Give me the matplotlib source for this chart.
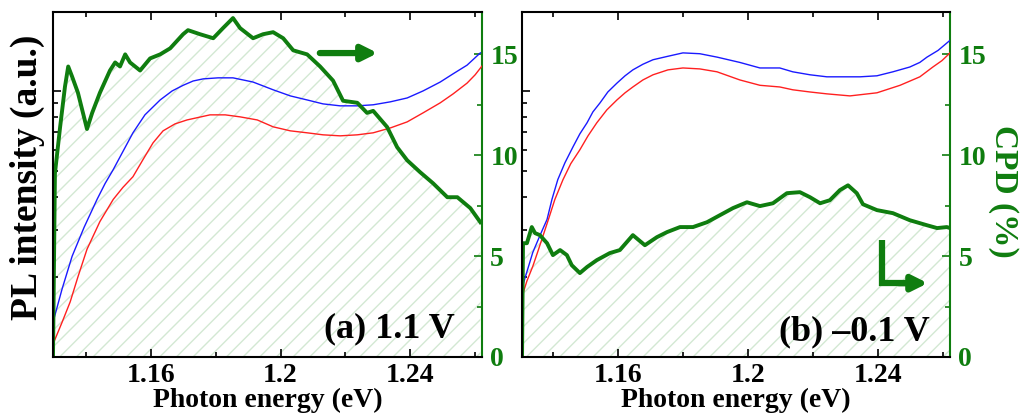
import numpy as np
import matplotlib
matplotlib.use("Agg")
import matplotlib.pyplot as plt
from matplotlib.ticker import MultipleLocator, NullFormatter, FormatStrFormatter, LogLocator

plt.rcParams['font.family'] = ['Liberation Serif', 'DejaVu Serif']
plt.rcParams['font.weight'] = 'bold'
plt.rcParams['hatch.linewidth'] = 1.0

GREEN = '#0f7d0f'
HATCH = '#d3e8d3'

# ---- panel (a) 1.1 V ----
a_blue_e = [1.1297, 1.1325, 1.1356, 1.1393, 1.1433, 1.1458, 1.1483, 1.1513, 1.1544, 1.1581,
            1.1628, 1.1665, 1.1699, 1.1730, 1.1761, 1.1807, 1.1853, 1.1915, 1.1977, 1.2030,
            1.2082, 1.2131, 1.2184, 1.2237, 1.2286, 1.2339, 1.2391, 1.2440, 1.2493, 1.2533,
            1.2576, 1.2617]
a_blue = [1.35, 1.80, 2.39, 3.07, 3.91, 4.49, 5.06, 5.92, 6.96, 8.13,
          9.25, 10.0, 10.5, 10.9, 11.1, 11.2, 11.2, 10.8, 10.1, 9.58,
          9.25, 8.94, 8.79, 8.79, 8.87, 9.10, 9.41, 10.0, 10.8, 11.6,
          12.5, 13.9]
a_red_e = [1.1300, 1.1325, 1.1350, 1.1374, 1.1402, 1.1442, 1.1483, 1.1513, 1.1544, 1.1575,
           1.1606, 1.1637, 1.1674, 1.1711, 1.1782, 1.1829, 1.1875, 1.1928, 1.1977, 1.2030,
           1.2082, 1.2131, 1.2184, 1.2237, 1.2286, 1.2339, 1.2391, 1.2440, 1.2493, 1.2533,
           1.2576, 1.2601, 1.2622]
a_red = [1.14, 1.35, 1.61, 2.00, 2.54, 3.23, 3.91, 4.34, 4.76, 5.52,
         6.38, 7.08, 7.52, 7.78, 8.13, 8.13, 7.99, 7.78, 7.33, 7.08,
         6.96, 6.84, 6.78, 6.84, 6.96, 7.26, 7.65, 8.27, 9.02, 9.75,
         10.7, 11.5, 12.4]
a_cpd_e = [1.1297, 1.1303, 1.1319, 1.1334, 1.1344, 1.1356, 1.1374, 1.1402, 1.1418, 1.1442,
           1.1473, 1.1489, 1.1504, 1.1520, 1.1535, 1.1566, 1.1597, 1.1628, 1.1659, 1.1699,
           1.1714, 1.1751, 1.1792, 1.1822, 1.1853, 1.1875, 1.1915, 1.1946, 1.1977, 1.2008,
           1.2039, 1.2082, 1.2122, 1.2162, 1.2193, 1.2237, 1.2267, 1.2286, 1.2329, 1.2360,
           1.2391, 1.2431, 1.2471, 1.2515, 1.2546, 1.2586, 1.2617]
a_cpd = [0.0, 9.1, 11.4, 13.4, 14.4, 13.9, 13.1, 11.3, 12.1, 13.1,
         14.2, 14.6, 14.4, 15.0, 14.6, 14.2, 14.8, 15.0, 15.3, 16.0,
         16.2, 16.0, 15.8, 16.3, 16.8, 16.3, 15.8, 16.0, 16.1, 15.8,
         15.2, 15.0, 14.4, 13.7, 12.7, 12.6, 12.1, 12.2, 11.4, 10.4,
         9.75, 9.16, 8.61, 7.92, 7.92, 7.38, 6.68]

# ---- panel (b) -0.1 V ----
b_blue_e = [1.1308, 1.1323, 1.1338, 1.1360, 1.1382, 1.1397, 1.1415, 1.1437, 1.1462, 1.1483,
            1.1505, 1.1523, 1.1545, 1.1569, 1.1597, 1.1622, 1.1646, 1.1677, 1.1708, 1.1754,
            1.1800, 1.1852, 1.1905, 1.1975, 1.2037, 1.2098, 1.2138, 1.2191, 1.2243, 1.2292,
            1.2345, 1.2397, 1.2446, 1.2498, 1.2529, 1.2551, 1.2585, 1.2622]
b_blue = [1.87, 2.15, 2.47, 2.86, 3.29, 3.91, 4.64, 5.37, 6.17, 6.90,
          7.59, 8.34, 9.02, 9.91, 10.7, 11.4, 12.0, 12.6, 13.1, 13.5,
          13.9, 13.8, 13.4, 12.8, 12.2, 12.2, 11.8, 11.5, 11.3, 11.3,
          11.3, 11.4, 11.8, 12.3, 12.8, 13.4, 14.2, 15.5]
b_red_e = [1.1305, 1.1320, 1.1338, 1.1354, 1.1369, 1.1388, 1.1406, 1.1431, 1.1455, 1.1483,
           1.1508, 1.1535, 1.1566, 1.1597, 1.1622, 1.1646, 1.1677, 1.1708, 1.1754, 1.1800,
           1.1852, 1.1905, 1.1975, 1.2037, 1.2098, 1.2138, 1.2191, 1.2243, 1.2314, 1.2397,
           1.2468, 1.2529, 1.2569, 1.2597, 1.2622]
b_red = [1.69, 1.93, 2.19, 2.50, 2.84, 3.34, 3.91, 4.64, 5.33, 6.01,
         6.78, 7.59, 8.49, 9.25, 9.84, 10.35, 11.0, 11.5, 12.0, 12.2,
         12.1, 11.8, 11.0, 10.5, 10.35, 10.1, 9.91, 9.75, 9.58, 9.84,
         10.5, 11.3, 12.3, 13.0, 13.9]
b_cpd_e = [1.1305, 1.1308, 1.1320, 1.1335, 1.1345, 1.1360, 1.1382, 1.1400, 1.1422, 1.1443,
           1.1458, 1.1483, 1.1505, 1.1535, 1.1575, 1.1606, 1.1646, 1.1683, 1.1720, 1.1751,
           1.1791, 1.1831, 1.1874, 1.1914, 1.1954, 1.1997, 1.2037, 1.2077, 1.2120, 1.2160,
           1.2191, 1.2222, 1.2252, 1.2283, 1.2308, 1.2335, 1.2354, 1.2397, 1.2446, 1.2498,
           1.2551, 1.2582, 1.2612, 1.2622]
b_cpd = [0.0, 5.64, 5.64, 6.44, 6.14, 6.04, 5.64, 5.05, 5.30, 5.05,
         4.55, 4.16, 4.46, 4.80, 5.15, 5.30, 6.04, 5.54, 5.94, 6.19,
         6.44, 6.44, 6.68, 7.03, 7.38, 7.67, 7.48, 7.62, 8.12, 8.17,
         7.92, 7.62, 7.77, 8.27, 8.51, 8.12, 7.57, 7.28, 7.13, 6.78,
         6.53, 6.39, 6.44, 6.39]

panels = [
    dict(rect=[0.0517, 0.1439, 0.4185, 0.8273], xlim=(1.1297, 1.2622),
         blue_e=a_blue_e, blue=a_blue, red_e=a_red_e, red=a_red, cpd_e=a_cpd_e, cpd=a_cpd,
         label='(a) 1.1 V', lx=0.937, ly=0.058),
    dict(rect=[0.5093, 0.1439, 0.4176, 0.8273], xlim=(1.1305, 1.2622),
         blue_e=b_blue_e, blue=b_blue, red_e=b_red_e, red=b_red, cpd_e=b_cpd_e, cpd=b_cpd,
         label='(b) \u20130.1 V', lx=0.953, ly=0.049),
]

fig = plt.figure(figsize=(10.25, 4.17), dpi=100)
axes = []
for p in panels:
    ax = fig.add_axes(p['rect'])
    ax2 = ax.twinx()
    # PL axis drawn on top of the CPD axis (hatch stays underneath)
    ax2.set_zorder(ax.get_zorder() - 1)
    ax.patch.set_visible(False)

    ax2.fill_between(p['cpd_e'], 0, p['cpd'], facecolor='none', edgecolor=HATCH,
                     hatch='//', linewidth=0)
    ax2.set_ylim(0, 17.1)
    ax2.set_xlim(*p['xlim'])

    ax.plot(p['blue_e'], p['blue'], color='#1a1aff', lw=1.0)
    ax.plot(p['red_e'], p['red'], color='#ff2020', lw=1.0)
    ax.plot(p['cpd_e'], p['cpd'], color=GREEN, lw=2.8, solid_joinstyle='round',
            transform=ax2.transData)
    ax.set_yscale('log')
    ax.set_ylim(1, 19.8)
    ax.set_xlim(*p['xlim'])

    ax.yaxis.set_major_locator(LogLocator(base=10))
    ax.yaxis.set_minor_locator(LogLocator(base=10, subs=np.arange(2, 10)))
    ax.yaxis.set_major_formatter(NullFormatter())
    ax.yaxis.set_minor_formatter(NullFormatter())
    ax.xaxis.set_major_locator(MultipleLocator(0.04))
    ax.xaxis.set_minor_locator(MultipleLocator(0.02))
    ax.xaxis.set_major_formatter(FormatStrFormatter('%g'))
    ax.tick_params(axis='x', which='both', direction='in', top=True, labelsize=20, pad=4)
    ax.tick_params(axis='y', which='both', direction='in', right=False)
    ax.tick_params(which='major', length=6, width=1.2)
    ax.tick_params(which='minor', length=3.5, width=1.2)
    ax.set_xlabel('Photon energy (eV)', fontsize=20, fontweight='bold', labelpad=0)

    ax2.yaxis.set_major_locator(MultipleLocator(5))
    ax2.yaxis.set_minor_locator(MultipleLocator(2.5))
    ax2.tick_params(axis='y', which='both', direction='in', colors=GREEN, labelsize=20, pad=6)
    ax2.tick_params(which='major', length=6, width=1.2)
    ax2.tick_params(which='minor', length=3.5, width=1.2)
    for s in ['left', 'top', 'bottom']:
        ax2.spines[s].set_visible(False)
    ax2.spines['right'].set_color(GREEN)
    ax2.spines['right'].set_linewidth(1.5)
    for s in ['left', 'top', 'bottom']:
        ax.spines[s].set_linewidth(1.5)
    ax.spines['right'].set_visible(False)

    ax.text(p['lx'], p['ly'], p['label'], transform=ax.transAxes, ha='right',
            va='baseline', fontsize=26, fontweight='bold')
    axes.append(ax)

# arrow in (a) pointing to the CPD axis
axa = axes[0]
axa.annotate('', xy=(0.757, 0.881), xytext=(0.622, 0.881), xycoords='axes fraction',
             arrowprops=dict(arrowstyle='-|>,head_length=0.9,head_width=0.45',
                             color=GREEN, lw=4.5, shrinkA=0, shrinkB=0))

# L-shaped arrow in (b)
axb = axes[1]
axb.plot([0.841, 0.841, 0.90], [0.339, 0.214, 0.214], color=GREEN, lw=4.5,
         transform=axb.transAxes, solid_capstyle='butt', solid_joinstyle='miter')
axb.annotate('', xy=(0.948, 0.214), xytext=(0.88, 0.214), xycoords='axes fraction',
             arrowprops=dict(arrowstyle='-|>,head_length=0.9,head_width=0.45',
                             color=GREEN, lw=4.5, shrinkA=0, shrinkB=0))

fig.text(0.027, 0.575, 'PL intensity (a.u.)', rotation=90, ha='center', va='center',
         fontsize=27, fontweight='bold')
fig.text(0.979, 0.54, 'CPD (%)', rotation=270, ha='center', va='center',
         fontsize=24, fontweight='bold', color=GREEN)

fig.savefig('out.png', dpi=100)
